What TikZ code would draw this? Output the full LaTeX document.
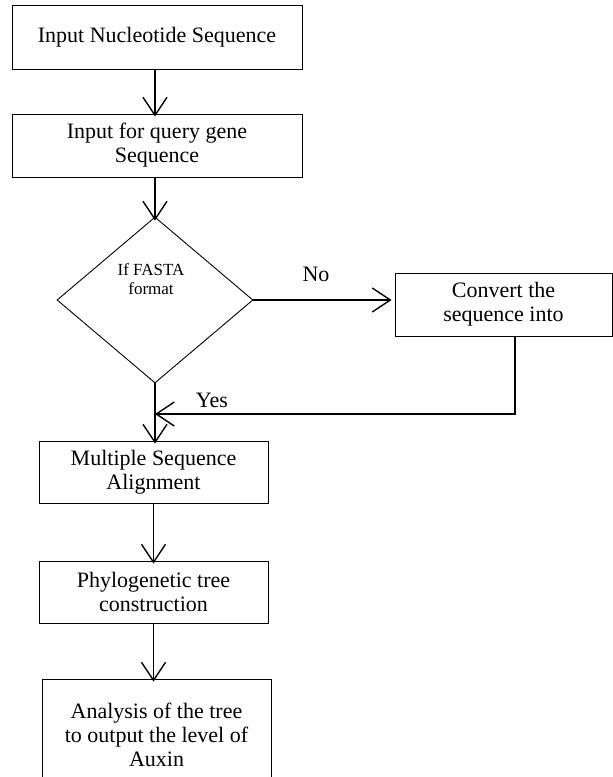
\documentclass[tikz,border=0pt]{standalone}
\usepackage{fontspec}
\setmainfont{Liberation Serif}
\usetikzlibrary{arrows.meta,shapes.geometric,calc}
\begin{document}
\begin{tikzpicture}[x=1pt,y=-1pt,
  box/.style={draw=black,line width=0.9pt,rectangle,align=center,inner sep=0pt,
    font=\fontsize{22}{24}\selectfont},
  dec/.style={draw=black,line width=0.9pt,diamond,inner sep=0pt,
    minimum width=196pt,minimum height=166pt},
  dtext/.style={align=center,inner sep=0pt,font=\fontsize{17}{19}\selectfont},
  arr/.style={draw=black,line width=1.4pt,-{Straight Barb[length=18pt,width=24pt,line width=1.4pt]}},
  lbl/.style={font=\fontsize{22}{24}\selectfont,inner sep=0pt}]
\useasboundingbox (0,0) rectangle (613,777);
\clip (0,0) rectangle (613,777);
\fill[white] (0,0) rectangle (613,777);
\node[box,minimum width=290pt,minimum height=64pt] (b1) at (157,37) {Input Nucleotide Sequence};
\node[box,minimum width=290pt,minimum height=63pt] (b2) at (157,145.5) {Input for query gene\\Sequence};
\node[dec] (d) at (155,300) {};
\node[dtext] (dt) at (151,279) {If FASTA\\format};
\node[box,minimum width=217pt,minimum height=63pt] (conv) at (503.5,304.5) {Convert the\\sequence into};
\node[box,minimum width=229pt,minimum height=62pt] (msa) at (153.5,472) {Multiple Sequence\\Alignment};
\node[box,minimum width=229pt,minimum height=62pt] (phy) at (153.5,592) {Phylogenetic tree\\construction};
\node[box,minimum width=229pt,minimum height=112pt] (ana) at (156.5,735) {Analysis of the tree\\to output the level of\\Auxin};
\coordinate (join) at (155,414);
\draw[arr] ([xshift=-2pt]b1.south) -- ([xshift=-2pt,yshift=-3pt]b2.north);
\draw[arr] (b2.south -| d.north) -- ([yshift=-4pt]d.north);
\draw[arr] (d.east) -- ([xshift=-3pt]d.east -| conv.west);
\draw[line width=1.4pt] ([xshift=11.5pt]conv.south) |- (join);
\draw[arr] ([xshift=30pt]join) -- (join);
\draw[arr] (d.south) -- ([yshift=-3pt]msa.north -| d.south);
\draw[arr] (msa.south) -- ([yshift=-3pt]phy.north);
\draw[arr] (phy.south) -- ([yshift=-3pt]phy.south |- ana.north);
\node[lbl] (no) at (316,274) {No};
\node[lbl] (yes) at (212,400) {Yes};
\end{tikzpicture}
\end{document}
